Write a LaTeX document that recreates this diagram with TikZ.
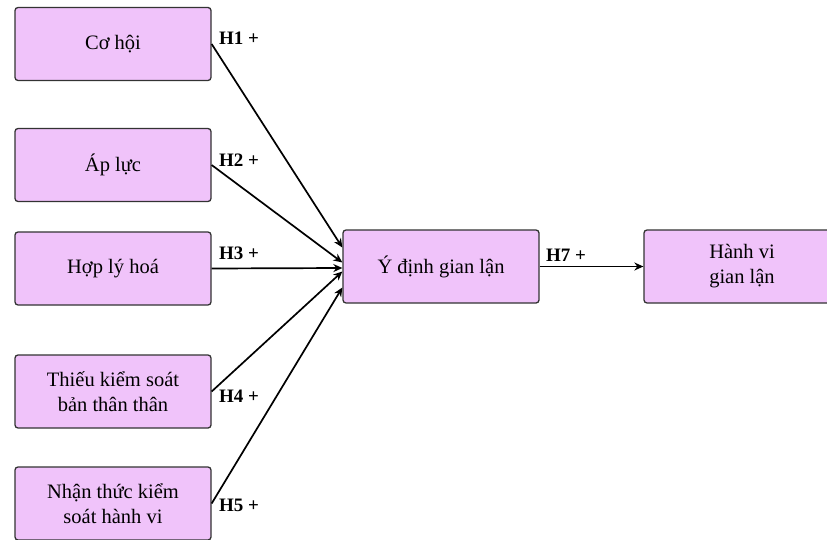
\documentclass[tikz,border=0pt]{standalone}
\usepackage{fontspec}
\setmainfont{Liberation Serif}
\usetikzlibrary{arrows.meta,calc}
\definecolor{boxfill}{HTML}{F0C3FA}
\definecolor{boxline}{HTML}{333333}
\tikzset{
  factor/.style={draw=boxline, fill=boxfill, line width=1.3pt, rounded corners=3pt,
    minimum width=196pt, minimum height=73pt, align=center, inner sep=2pt,
    font=\fontsize{20.5}{25}\selectfont},
  link/.style={line width=1.7pt, -{Stealth[length=9pt,width=8pt]}},
  hlabel/.style={font=\fontsize{19}{22}\selectfont\bfseries, anchor=west, inner sep=0pt}
}
\begin{document}
\begin{tikzpicture}[x=1pt,y=-1pt]
\useasboundingbox (0,0) rectangle (827,540);
\node[factor] (b1) at (113,44) {Cơ hội};
\node[factor] (b2) at (113,165) {Áp lực};
\node[factor] (b3) at (113,268.5) {Hợp lý hoá};
\node[factor] (b4) at (113,391.5) {Thiếu kiểm soát\\bản thân thân};
\node[factor] (b5) at (113,503.5) {Nhận thức kiểm\\soát hành vi};
\node[factor] (c) at (441,266.5) {Ý định gian lận};
\node[factor] (r) at (742,266.5) {Hành vi\\gian lận};
\draw[link] (b1.east) -- ([yshift=19pt]c.west);
\draw[link] (b2.east) -- ([yshift=4pt]c.west);
\draw[link] (b3.east) -- ([yshift=-1.5pt]c.west);
\draw[link] (b4.east) -- ([yshift=-5pt]c.west);
\draw[link] (b5.east) -- ([yshift=-21pt]c.west);
\draw[link] (c.east) -- (r.west);
\node[hlabel] (l1) at (219,38) {H1 +};
\node[hlabel] (l2) at (219,160) {H2 +};
\node[hlabel] (l3) at (219,253) {H3 +};
\node[hlabel] (l4) at (219,396) {H4 +};
\node[hlabel] (l5) at (219,505) {H5 +};
\node[hlabel] (l7) at (546,255) {H7 +};
\end{tikzpicture}
\end{document}
